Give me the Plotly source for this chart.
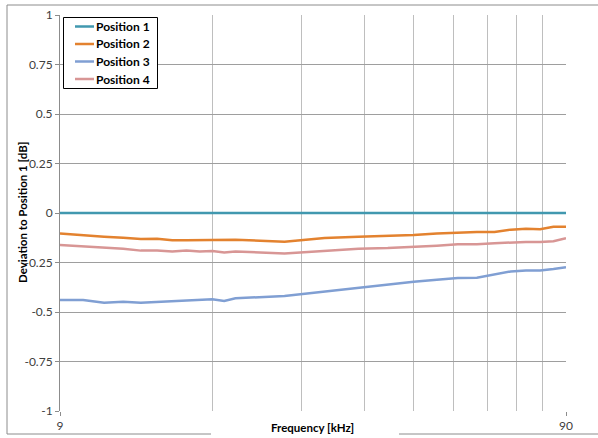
import numpy as np
import plotly.graph_objects as go

# Measurement frequencies in kHz
freq_khz = [9, 10, 11, 12, 13, 14, 15, 16, 17, 18, 19, 20,
            25, 30, 35, 40, 45, 50, 55, 60, 65, 70, 75, 80, 85, 90]

# Deviation to position 1 in dB
position_1 = [0.0] * len(freq_khz)
position_2 = [-0.104, -0.114, -0.120, -0.125, -0.131, -0.130, -0.138, -0.138, -0.138,
              -0.135, -0.136, -0.135, -0.145, -0.126, -0.120, -0.116, -0.111, -0.103,
              -0.099, -0.096, -0.096, -0.084, -0.079, -0.082, -0.069, -0.069]
position_3 = [-0.439, -0.439, -0.453, -0.448, -0.453, -0.449, -0.448, -0.441, -0.438,
              -0.436, -0.444, -0.431, -0.419, -0.396, -0.377, -0.362, -0.347, -0.337,
              -0.328, -0.327, -0.310, -0.295, -0.290, -0.290, -0.283, -0.274]
position_4 = [-0.162, -0.168, -0.175, -0.180, -0.190, -0.190, -0.194, -0.189, -0.194,
              -0.192, -0.199, -0.194, -0.204, -0.189, -0.180, -0.177, -0.172, -0.165,
              -0.158, -0.158, -0.153, -0.148, -0.146, -0.146, -0.143, -0.128]

series_names = ["Position 1", "Position 2", "Position 3", "Position 4"]
series_colors = ["#4198AF", "#E3822F", "#809FD3", "#D89695"]

y_ticks = [1, 0.75, 0.5, 0.25, 0, -0.25, -0.5, -0.75, -1]
y_tick_text = ["1", "0.75", "0.5", "0.25", "0", "-0.25", "-0.5", "-0.75", "-1"]
x_major = [9, 90]
x_minor = [18, 27, 36, 45, 54, 63, 72, 81]

FONT = "Lato"
W, H = 598, 438
ML, MR, MT, MB = 60, 32, 15, 27
pw, ph = W - ML - MR, H - MT - MB


def px_to_paper_x(px):
    return (px - ML) / pw


def px_to_paper_y(py):
    return (H - MB - py) / ph


fig = go.Figure()
for name, color, vals in zip(series_names, series_colors,
                             [position_1, position_2, position_3, position_4]):
    fig.add_trace(go.Scatter(x=freq_khz, y=vals, mode="lines", name=name,
                             showlegend=False,
                             line=dict(color=color, width=2.5)))

fig.update_layout(
    width=W, height=H,
    margin=dict(l=ML, r=MR, t=MT, b=MB, autoexpand=False),
    paper_bgcolor="white", plot_bgcolor="white",
    font=dict(family=FONT, size=12, color="#404040"),
    showlegend=False,
    xaxis=dict(
        type="log", range=[np.log10(9), np.log10(90)],
        tickvals=x_major, ticktext=[str(v) for v in x_major],
        ticks="outside", ticklen=4, tickcolor="#8C8C8C",
        ticklabelstandoff=0, automargin=False,
        showgrid=True, gridcolor="#BEBEBE", gridwidth=1,
        minor=dict(tickvals=x_minor, showgrid=True, gridcolor="#BEBEBE",
                   gridwidth=1, ticks=""),
        showline=False, zeroline=False,
        tickfont=dict(family=FONT, size=12, color="#404040"),
    ),
    yaxis=dict(
        range=[-1, 1], tickvals=y_ticks, ticktext=y_tick_text,
        ticks="outside", ticklen=4, tickcolor="#8C8C8C",
        automargin=False,
        showgrid=True, gridcolor="#9E9E9E", gridwidth=1,
        showline=True, linecolor="#8C8C8C", linewidth=1,
        zeroline=False,
        tickfont=dict(family=FONT, size=12, color="#404040"),
    ),
)

# Axis titles
fig.add_annotation(text="<b>Frequency [kHz]</b>", xref="paper", yref="paper",
                   x=px_to_paper_x(312), y=px_to_paper_y(427),
                   xanchor="center", yanchor="middle", showarrow=False,
                   bgcolor="white",
                   font=dict(family=FONT, size=11.5, color="black"))
fig.add_annotation(text="<b>Deviation to Position 1 [dB]</b>", xref="paper", yref="paper",
                   x=px_to_paper_x(22), y=px_to_paper_y(213), textangle=-90,
                   xanchor="center", yanchor="middle", showarrow=False,
                   font=dict(family=FONT, size=11.5, color="black"))

# Legend box with line samples and series names
fig.add_shape(type="rect", xref="paper", yref="paper",
              x0=px_to_paper_x(63.5), x1=px_to_paper_x(157.5),
              y0=px_to_paper_y(88.5), y1=px_to_paper_y(17.5),
              line=dict(color="black", width=1), fillcolor="white", layer="above")
legend_rows = [26.5, 44, 61.5, 79]
for name, color, row in zip(series_names, series_colors, legend_rows):
    fig.add_shape(type="line", xref="paper", yref="paper",
                  x0=px_to_paper_x(75), x1=px_to_paper_x(94),
                  y0=px_to_paper_y(row), y1=px_to_paper_y(row),
                  line=dict(color=color, width=2.5), layer="above")
    fig.add_annotation(text="<b>" + name + "</b>", xref="paper", yref="paper",
                       x=px_to_paper_x(94), y=px_to_paper_y(row),
                       xanchor="left", yanchor="middle", showarrow=False,
                       font=dict(family=FONT, size=12, color="black"))

# Chart-area frame (bottom edge interrupted by the x-axis title)
frame = dict(type="line", xref="paper", yref="paper",
             line=dict(color="#8C8C8C", width=1), layer="above")
x0, x1 = px_to_paper_x(7), px_to_paper_x(600)
y0, y1 = px_to_paper_y(434), px_to_paper_y(5)
fig.add_shape(**frame, x0=x0, x1=x1, y0=y1, y1=y1)
fig.add_shape(**frame, x0=x0, x1=x0, y0=y0, y1=y1)
fig.add_shape(**frame, x0=x0, x1=px_to_paper_x(211), y0=y0, y1=y0)
fig.add_shape(**frame, x0=px_to_paper_x(399), x1=x1, y0=y0, y1=y0)

fig.write_html("out.html")
